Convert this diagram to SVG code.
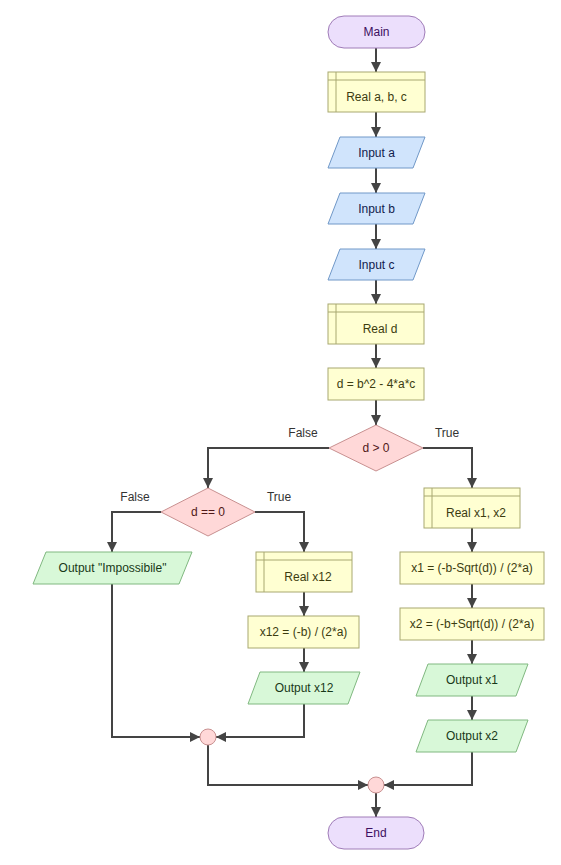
<svg xmlns="http://www.w3.org/2000/svg" width="561" height="865" viewBox="0 0 561 865">
<defs>
<marker id="ah" viewBox="0 0 10 10" refX="10" refY="5" markerWidth="10" markerHeight="10" markerUnits="userSpaceOnUse" orient="auto">
<path d="M0,0 L10,5 L0,10 z" fill="#444"/>
</marker>
<style>
text{font-family:"Liberation Sans",Arial,sans-serif;font-size:12px;text-anchor:middle;dominant-baseline:central}
.term{fill:#ecdffc;stroke:#a07cb8;stroke-width:1}
.term-t{fill:#3c1060}
.decl{fill:#ffffd2;stroke:#a8a870;stroke-width:1}
.decl-l{stroke:#a8a870;stroke-width:1;fill:none}
.decl-t{fill:#3c3c10}
.io{fill:#d0e4fc;stroke:#7098c8;stroke-width:1}
.io-t{fill:#10204c}
.dec{fill:#ffd8d8;stroke:#c89090;stroke-width:1}
.dec-t{fill:#501818}
.out{fill:#d8f8d8;stroke:#80b880;stroke-width:1}
.out-t{fill:#183818}
.c{fill:none;stroke:#444;stroke-width:2}
.ca{fill:none;stroke:#444;stroke-width:2;marker-end:url(#ah)}
.lbl{fill:#333}
.mrg{fill:#ffd8d8;stroke:#c89090;stroke-width:1}
</style>
</defs>
<g id="connectors">
<path class="ca" d="M376,48 V72"/>
<path class="ca" d="M376,112 V137"/>
<path class="ca" d="M376,168 V193"/>
<path class="ca" d="M376,224 V249"/>
<path class="ca" d="M376,280 V304"/>
<path class="ca" d="M376,344 V368"/>
<path class="ca" d="M376,400 V425"/>
<path class="ca" d="M329,448 H208 V488"/>
<path class="ca" d="M423,448 H472 V488"/>
<path class="ca" d="M161,512 H112 V552"/>
<path class="ca" d="M255,512 H304 V552"/>
<path class="ca" d="M304,592 V616"/>
<path class="ca" d="M304,648 V672"/>
<path class="ca" d="M472,528 V552"/>
<path class="ca" d="M472,584 V608"/>
<path class="ca" d="M472,640 V664"/>
<path class="ca" d="M472,696 V720"/>
<path class="ca" d="M112,584 V737 H200"/>
<path class="ca" d="M304,704 V737 H216"/>
<path class="ca" d="M208,745 V785 H368"/>
<path class="ca" d="M472,752 V785 H384"/>
<path class="ca" d="M376,793 V817"/>
<text class="lbl" x="303" y="433">False</text>
<text class="lbl" x="447" y="433">True</text>
<text class="lbl" x="135" y="497">False</text>
<text class="lbl" x="279" y="497">True</text>
</g>
<g id="main">
<rect class="term" x="328" y="16" width="97" height="32" rx="16"/>
<text class="term-t" x="376.5" y="32">Main</text>
</g>
<g id="decl-abc">
<rect class="decl" x="328" y="72" width="97" height="40"/>
<path class="decl-l" d="M328,80 H425 M336,72 V112"/>
<text class="decl-t" x="376.5" y="97">Real a, b, c</text>
</g>
<g id="input-a">
<polygon class="io" points="340,137 425,137 413,168 328,168"/>
<text class="io-t" x="376.5" y="153">Input a</text>
</g>
<g id="input-b">
<polygon class="io" points="340,193 425,193 413,224 328,224"/>
<text class="io-t" x="376.5" y="209">Input b</text>
</g>
<g id="input-c">
<polygon class="io" points="340,249 425,249 413,280 328,280"/>
<text class="io-t" x="376.5" y="265">Input c</text>
</g>
<g id="decl-d">
<rect class="decl" x="328" y="304" width="96" height="40"/>
<path class="decl-l" d="M328,312 H424 M336,304 V344"/>
<text class="decl-t" x="380" y="329">Real d</text>
</g>
<g id="assign-d">
<rect class="decl" x="328" y="368" width="96" height="32"/>
<text class="decl-t" x="376" y="384">d = b^2 - 4*a*c</text>
</g>
<g id="dec-d0">
<polygon class="dec" points="376,425 423,448 376,471 329,448"/>
<text class="dec-t" x="376" y="448">d &gt; 0</text>
</g>
<g id="dec-deq0">
<polygon class="dec" points="208,488 255,512 208,536 161,512"/>
<text class="dec-t" x="208" y="512">d == 0</text>
</g>
<g id="out-imp">
<polygon class="out" points="46,552 192,552 179,584 33,584"/>
<text class="out-t" x="112.5" y="568">Output "Impossibile"</text>
</g>
<g id="decl-x12">
<rect class="decl" x="256" y="552" width="96" height="40"/>
<path class="decl-l" d="M256,560 H352 M264,552 V592"/>
<text class="decl-t" x="308" y="577">Real x12</text>
</g>
<g id="assign-x12">
<rect class="decl" x="248" y="616" width="111" height="32"/>
<text class="decl-t" x="303.5" y="632">x12 = (-b) / (2*a)</text>
</g>
<g id="out-x12">
<polygon class="out" points="260,672 360,672 348,704 248,704"/>
<text class="out-t" x="304" y="688">Output x12</text>
</g>
<g id="decl-x1x2">
<rect class="decl" x="424" y="488" width="96" height="40"/>
<path class="decl-l" d="M424,496 H520 M432,488 V528"/>
<text class="decl-t" x="476" y="513">Real x1, x2</text>
</g>
<g id="assign-x1">
<rect class="decl" x="400" y="552" width="144" height="32"/>
<text class="decl-t" x="472" y="568">x1 = (-b-Sqrt(d)) / (2*a)</text>
</g>
<g id="assign-x2">
<rect class="decl" x="400" y="608" width="144" height="32"/>
<text class="decl-t" x="472" y="624">x2 = (-b+Sqrt(d)) / (2*a)</text>
</g>
<g id="out-x1">
<polygon class="out" points="428,664 528,664 516,696 416,696"/>
<text class="out-t" x="472" y="680">Output x1</text>
</g>
<g id="out-x2">
<polygon class="out" points="428,720 528,720 516,752 416,752"/>
<text class="out-t" x="472" y="736">Output x2</text>
</g>
<g id="merge1">
<circle class="mrg" cx="208" cy="737" r="8"/>
</g>
<g id="merge2">
<circle class="mrg" cx="376" cy="785" r="8"/>
</g>
<g id="end">
<rect class="term" x="328" y="817" width="96" height="32" rx="16"/>
<text class="term-t" x="376" y="833">End</text>
</g>
</svg>
